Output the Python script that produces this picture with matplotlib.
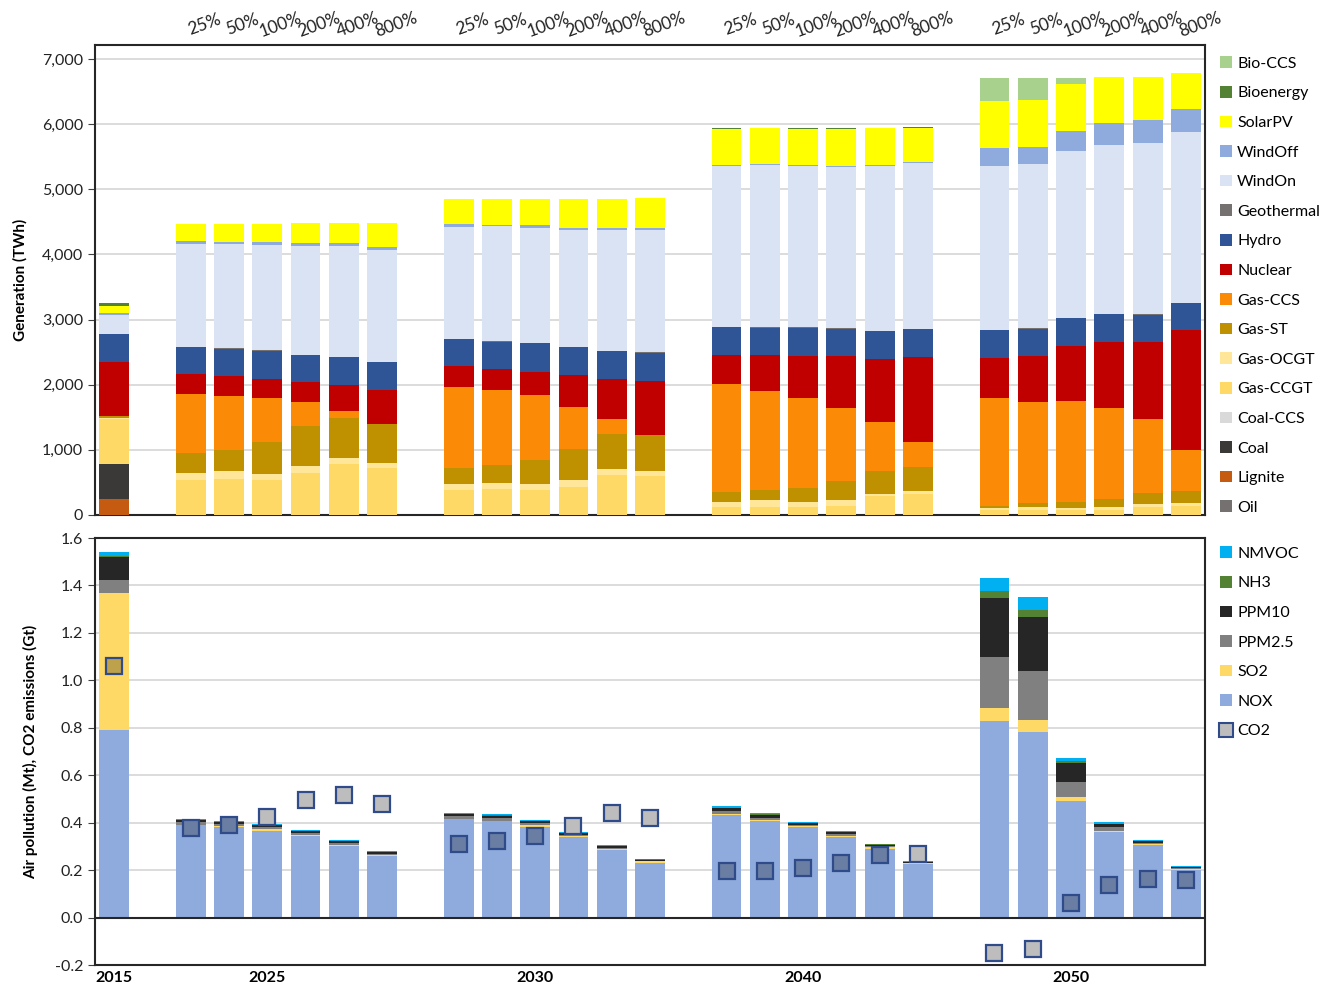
import numpy as np
import matplotlib
matplotlib.use('Agg')
import matplotlib.pyplot as plt
from matplotlib.patches import Patch
from matplotlib.lines import Line2D
from matplotlib.colors import to_rgb
from matplotlib.ticker import FuncFormatter, MultipleLocator

plt.rcParams['font.family'] = ['Lato', 'DejaVu Sans']

# ---------------------------------------------------------------------------
# categories
# ---------------------------------------------------------------------------
YEARS = ['2025', '2030', '2040', '2050']
SCENARIOS = ['25%', '50%', '100%', '200%', '400%', '800%']

# each series: [2015, 2025 x6, 2030 x6, 2040 x6, 2050 x6]
# ---------------------------------------------------------------------------
# generation (TWh)
# ---------------------------------------------------------------------------
oil = [0] + [0] * 24
lignite = [250] + [0] * 24
coal = [530] + [0] * 24
coal_ccs = [0] + [0] * 24
gas_ccgt = [690,
            535, 560, 535, 640, 780, 725,
            380, 400, 380, 430, 620, 595,
            130, 130, 130, 145, 285, 320,
            80, 80, 80, 80, 130, 145]
gas_ocgt = [20,
            115, 110, 100, 115, 100, 80,
            90, 95, 100, 100, 80, 75,
            75, 95, 65, 80, 40, 50,
            30, 40, 25, 40, 35, 45]
gas_st = [30,
          300, 330, 485, 610, 615, 585,
          245, 275, 370, 490, 545, 565,
          145, 155, 220, 300, 345, 370,
          30, 60, 90, 125, 170, 180]
gas_ccs = [0,
           905, 825, 680, 375, 100, 0,
           1245, 1150, 985, 645, 235, 0,
           1660, 1530, 1375, 1110, 765, 385,
           1650, 1555, 1560, 1405, 1140, 625]
nuclear = [830,
           305, 310, 295, 295, 405, 530,
           320, 320, 365, 490, 605, 825,
           450, 540, 650, 805, 965, 1300,
           625, 700, 845, 1010, 1180, 1845]
hydro = [425,
         420, 420, 430, 420, 425, 430,
         420, 420, 435, 420, 430, 430,
         425, 425, 435, 420, 425, 430,
         425, 425, 420, 420, 420, 410]
geothermal = [5] + [5] * 24
wind_on = [285,
           1580, 1595, 1615, 1670, 1700, 1720,
           1720, 1765, 1770, 1795, 1850, 1875,
           2465, 2495, 2475, 2470, 2530, 2545,
           2520, 2530, 2565, 2590, 2635, 2620]
wind_off = [30,
            45, 40, 40, 50, 50, 40,
            40, 25, 40, 35, 30, 30,
            15, 15, 15, 20, 15, 20,
            270, 255, 310, 335, 345, 360]
solar_pv = [110,
            260, 275, 285, 295, 295, 370,
            385, 400, 400, 440, 450, 470,
            560, 545, 560, 575, 560, 520,
            715, 715, 715, 710, 670, 550]
bioenergy = [45,
             0, 0, 0, 0, 0, 0,
             0, 0, 0, 0, 0, 0,
             5, 5, 5, 5, 5, 5,
             0, 0, 0, 0, 0, 0]
bio_ccs = [0,
           0, 0, 0, 0, 0, 0,
           0, 0, 0, 0, 0, 0,
           0, 0, 0, 0, 0, 0,
           360, 340, 95, 10, 0, 0]

GEN_NAMES = ['Oil', 'Lignite', 'Coal', 'Coal-CCS', 'Gas-CCGT', 'Gas-OCGT',
             'Gas-ST', 'Gas-CCS', 'Nuclear', 'Hydro', 'Geothermal', 'WindOn',
             'WindOff', 'SolarPV', 'Bioenergy', 'Bio-CCS']
GEN_DATA = [oil, lignite, coal, coal_ccs, gas_ccgt, gas_ocgt, gas_st, gas_ccs,
            nuclear, hydro, geothermal, wind_on, wind_off, solar_pv,
            bioenergy, bio_ccs]
GEN_COLORS = ['#767171', '#C55A11', '#3B3838', '#D9D9D9', '#FFD966', '#FFE699',
              '#BF9000', '#FB8B06', '#C00000', '#2F5597', '#767171', '#DAE3F3',
              '#8FAADC', '#FFFF00', '#548235', '#A9D18E']

# ---------------------------------------------------------------------------
# air pollution (Mt) and CO2 (Gt)
# ---------------------------------------------------------------------------
nox = [0.789,
       0.389, 0.380, 0.363, 0.342, 0.300, 0.258,
       0.415, 0.406, 0.382, 0.339, 0.283, 0.232,
       0.432, 0.408, 0.380, 0.339, 0.289, 0.225,
       0.828, 0.782, 0.490, 0.359, 0.307, 0.201]
so2 = [0.579,
       0.003, 0.005, 0.010, 0.007, 0.007, 0.005,
       0.002, 0.002, 0.008, 0.006, 0.006, 0.005,
       0.005, 0.005, 0.005, 0.006, 0.007, 0.003,
       0.057, 0.050, 0.018, 0.004, 0.004, 0.005]
ppm25 = [0.057,
         0.011, 0.008, 0.009, 0.007, 0.007, 0.006,
         0.010, 0.010, 0.009, 0.004, 0.004, 0.002,
         0.011, 0.007, 0.007, 0.007, 0.004, 0.003,
         0.215, 0.207, 0.062, 0.017, 0.003, 0.002]
ppm10 = [0.096,
         0.007, 0.008, 0.008, 0.009, 0.007, 0.006,
         0.010, 0.012, 0.007, 0.007, 0.007, 0.005,
         0.013, 0.014, 0.007, 0.007, 0.007, 0.004,
         0.246, 0.230, 0.082, 0.014, 0.007, 0.005]
nh3 = [0.005,
       0.001, 0.001, 0.001, 0.001, 0.001, 0.001,
       0.001, 0.001, 0.001, 0.001, 0.001, 0.001,
       0.002, 0.002, 0.001, 0.001, 0.001, 0.001,
       0.031, 0.027, 0.006, 0.002, 0.001, 0.001]
nmvoc = [0.016,
         0.004, 0.003, 0.003, 0.003, 0.003, 0.003,
         0.004, 0.004, 0.003, 0.003, 0.003, 0.003,
         0.006, 0.005, 0.004, 0.003, 0.003, 0.002,
         0.055, 0.055, 0.014, 0.005, 0.003, 0.002]
co2 = [1.062,
       0.377, 0.392, 0.424, 0.497, 0.518, 0.479,
       0.310, 0.321, 0.345, 0.387, 0.441, 0.418,
       0.197, 0.197, 0.208, 0.228, 0.263, 0.269,
       -0.151, -0.131, 0.063, 0.137, 0.163, 0.159]

POL_NAMES = ['NOX', 'SO2', 'PPM2.5', 'PPM10', 'NH3', 'NMVOC']
POL_DATA = [nox, so2, ppm25, ppm10, nh3, nmvoc]
POL_COLORS = ['#8FAADC', '#FFD966', '#808080', '#262626', '#548235', '#00B0F0']

# ---------------------------------------------------------------------------
# positions: 2015 in slot 0, then groups of 6 with one empty slot between
# ---------------------------------------------------------------------------
x = [0] + [2 + 7 * g + s for g in range(len(YEARS)) for s in range(len(SCENARIOS))]
x = np.array(x, dtype=float)
WIDTH = 0.78

fig = plt.figure(figsize=(13.22, 9.88), dpi=100)
ax1 = fig.add_axes([95 / 1322, 1 - 515 / 988, 1110 / 1322, 470 / 988])
ax2 = fig.add_axes([95 / 1322, 1 - 965 / 988, 1110 / 1322, 427 / 988])

# ========== generation ==========
bottom = np.zeros(len(x))
for name, vals, col in zip(GEN_NAMES, GEN_DATA, GEN_COLORS):
    vals = np.array(vals, dtype=float)
    ax1.bar(x, vals, WIDTH, bottom=bottom, color=col, linewidth=0, zorder=3)
    bottom += vals

ax1.set_xlim(-0.5, 28.5)
ax1.set_ylim(0, 7215)
ax1.yaxis.set_major_locator(MultipleLocator(1000))
ax1.yaxis.set_major_formatter(FuncFormatter(lambda v, p: f'{int(v):,}'))
ax1.set_xticks([])
ax1.grid(axis='y', color='#D9D9D9', linewidth=1.3, zorder=0)
ax1.set_ylabel('Generation (TWh)', fontsize=11, fontweight='bold', labelpad=10)

# scenario labels above the top panel
for g in range(len(YEARS)):
    for s, lab in enumerate(SCENARIOS):
        xs = 2 + 7 * g + s
        ax1.text(xs + 0.36, 1.043, lab, transform=ax1.get_xaxis_transform(),
                 rotation=20, ha='center', va='center', fontsize=12.5,
                 color='#222222')

# ========== air pollution ==========
bottom = np.zeros(len(x))
for name, vals, col in zip(POL_NAMES, POL_DATA, POL_COLORS):
    vals = np.array(vals, dtype=float)
    ax2.bar(x, vals, WIDTH, bottom=bottom, color=col, linewidth=0, zorder=3)
    bottom += vals

# CO2 squares look multiplied over whatever lies beneath them
pol = np.array(POL_DATA, dtype=float)
stack = np.cumsum(pol, axis=0)
for i, (xi, c) in enumerate(zip(x, co2)):
    under = (1.0, 1.0, 1.0)
    if 0 < c < stack[-1, i]:
        k = int(np.searchsorted(stack[:, i], c, side='right'))
        # thin slivers at the top: the square mostly sits on the big segment
        while k > 0 and pol[k, i] < 0.03:
            k -= 1
        under = to_rgb(POL_COLORS[k])
    face = tuple(0.74 * u for u in under)
    ax2.plot(xi, c, 's', markersize=11.5, markerfacecolor=face,
             markeredgecolor='#2F4B8A', markeredgewidth=1.6, zorder=5)

ax2.axhline(0, color='#262626', linewidth=1.5, zorder=4)
ax2.set_xlim(-0.5, 28.5)
ax2.set_ylim(-0.2, 1.6)
ax2.yaxis.set_major_locator(MultipleLocator(0.2))
ax2.yaxis.set_major_formatter(FuncFormatter(lambda v, p: f'{v:.1f}'))
ax2.grid(axis='y', color='#D9D9D9', linewidth=1.3, zorder=0)
ax2.set_ylabel('Air pollution (Mt), CO2 emissions (Gt)', fontsize=11,
               fontweight='bold', labelpad=12)

xlab_pos = [0] + [2 + 7 * g + 2 for g in range(len(YEARS))]
ax2.set_xticks(xlab_pos)
ax2.set_xticklabels(['2015'] + YEARS, fontsize=11.5, fontweight='bold')
ax2.tick_params(axis='x', length=0, pad=4)

for ax in (ax1, ax2):
    for sp in ax.spines.values():
        sp.set_color('#262626')
        sp.set_linewidth(1.5)
    ax.tick_params(axis='y', labelsize=11.5, length=5, color='#404040',
                   labelcolor='#222222')

# ========== legends ==========
gen_handles = [Patch(facecolor=c, edgecolor='none', label=n)
               for n, c in zip(GEN_NAMES, GEN_COLORS)][::-1]
fig.legend(handles=gen_handles, loc='upper left',
           bbox_to_anchor=(1214 / 1322, 1 - 50 / 988), frameon=False,
           fontsize=11.5, handlelength=0.75, handleheight=0.75,
           handletextpad=0.3, labelspacing=0.95, borderaxespad=0)

pol_handles = [Patch(facecolor=c, edgecolor='none', label=n)
               for n, c in zip(POL_NAMES, POL_COLORS)][::-1]
pol_handles.append(Line2D([0], [0], marker='s', linestyle='none', markersize=10,
                          markerfacecolor='#BDBDBD', markeredgecolor='#2F4B8A',
                          markeredgewidth=1.5, label='CO2'))
fig.legend(handles=pol_handles, loc='upper left',
           bbox_to_anchor=(1214 / 1322, 1 - 540 / 988), frameon=False,
           fontsize=11.5, handlelength=0.75, handleheight=0.75,
           handletextpad=0.3, labelspacing=0.95, borderaxespad=0)

fig.savefig('out.png', dpi=100, facecolor='white')
